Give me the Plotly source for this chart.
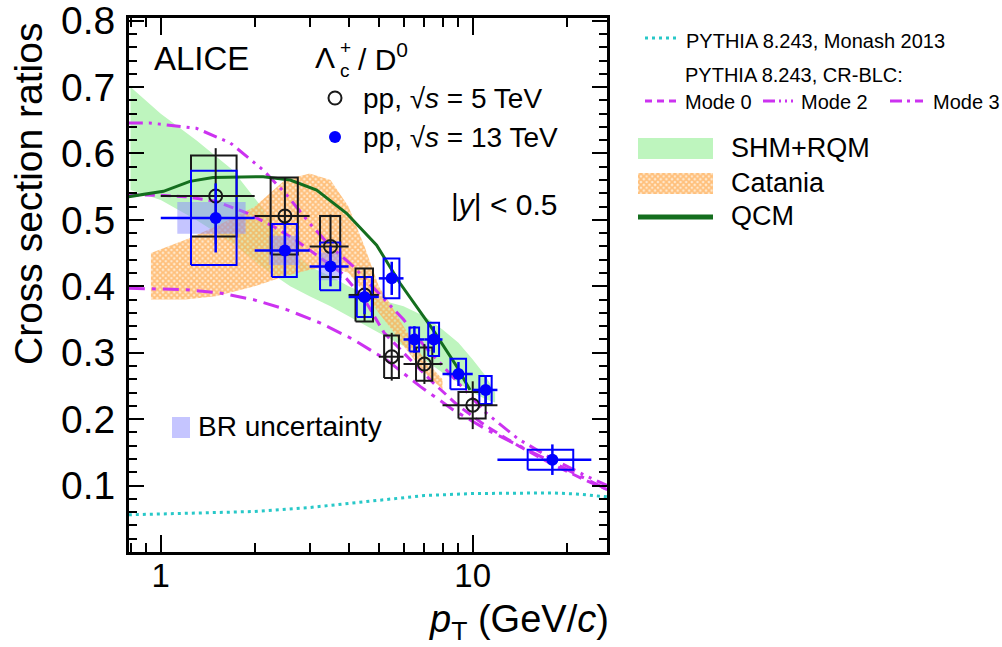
import plotly.graph_objects as go
import numpy as np

# ---------------- data ----------------
pt5 = [1.5, 2.5, 3.5, 4.5, 5.5, 7.0, 10.0]
lo5 = [1, 2, 3, 4, 5, 6, 8]
hi5 = [2, 3, 4, 5, 6, 8, 12]
val5 = [0.536, 0.506, 0.460, 0.387, 0.294, 0.283, 0.221]
stat5 = [0.072, 0.058, 0.048, 0.040, 0.036, 0.030, 0.036]
syst5 = [0.061, 0.058, 0.046, 0.040, 0.032, 0.025, 0.020]
boxw5 = [0.25, 0.25, 0.26, 0.29, 0.30, 0.42, 1.0]

pt13 = [1.5, 2.5, 3.5, 4.5, 5.5, 6.5, 7.5, 9.0, 11.0, 18.0]
lo13 = [1, 2, 3, 4, 5, 6, 7, 8, 10, 12]
hi13 = [2, 3, 4, 5, 6, 7, 8, 10, 12, 24]
val13 = [0.503, 0.454, 0.430, 0.384, 0.412, 0.320, 0.320, 0.268, 0.244, 0.139]
stat13 = [0.052, 0.040, 0.030, 0.026, 0.025, 0.020, 0.020, 0.018, 0.020, 0.023]
syst13 = [0.071, 0.040, 0.036, 0.030, 0.030, 0.018, 0.025, 0.023, 0.021, 0.015]
boxw13 = [0.25, 0.23, 0.26, 0.25, 0.32, 0.23, 0.30, 0.52, 0.50, 3.0]

br_pt = [1.5, 2.5, 3.5]
br_val = [0.503, 0.454, 0.430]
br_unc = [0.024, 0.022, 0.021]
br_w = [0.37, 0.28, 0.30]

monash_pt = [0.79, 1.0, 1.5, 2.0, 3.0, 4.0, 5.0, 7.0, 10.0, 14.0, 18.0, 22.0, 27.0]
monash_y = [0.056, 0.057, 0.059, 0.061, 0.067, 0.073, 0.078, 0.085, 0.088, 0.089, 0.089, 0.087, 0.083]

mode0_pt = [0.79, 1.0, 1.2, 1.5, 1.9, 2.3, 2.7, 3.2, 3.8, 4.5, 5.2, 6.0, 7.5, 9.0, 11.0, 14.0, 18.0, 23.0, 27.0]
mode0_y = [0.538, 0.537, 0.535, 0.528, 0.51, 0.49, 0.47, 0.445, 0.42, 0.38, 0.33, 0.30, 0.254, 0.22, 0.19, 0.16, 0.132, 0.108, 0.094]

mode2_pt = [0.79, 0.92, 1.3, 1.67, 2.13, 2.53, 3.0, 3.5, 4.14, 5.0, 6.0, 7.0, 8.0, 9.0, 11.0, 14.0, 18.0, 23.0, 27.0]
mode2_y = [0.646, 0.646, 0.638, 0.616, 0.575, 0.538, 0.495, 0.46, 0.43, 0.39, 0.35, 0.31, 0.28, 0.255, 0.21, 0.17, 0.14, 0.115, 0.10]

mode3_pt = [0.79, 1.21, 1.55, 1.98, 2.53, 3.24, 4.14, 5.3, 6.8, 8.66, 11.1, 14.2, 18.1, 23.2, 27.0]
mode3_y = [0.397, 0.395, 0.39, 0.38, 0.365, 0.345, 0.32, 0.289, 0.249, 0.214, 0.184, 0.159, 0.134, 0.109, 0.094]

qcm_pt = [0.79, 1.02, 1.24, 1.47, 2.13, 2.6, 3.16, 3.94, 4.92, 5.84, 7.47, 8.9, 9.8]
qcm_y = [0.535, 0.543, 0.558, 0.564, 0.565, 0.56, 0.545, 0.51, 0.462, 0.405, 0.334, 0.279, 0.244]

shm_pt = [0.8, 1.0, 1.3, 1.7, 2.1, 2.6, 3.0, 3.5, 4.0, 5.0, 6.0, 7.0, 8.0, 9.0, 10.0, 11.0, 11.8]
shm_hi = [0.70, 0.66, 0.62, 0.575, 0.52, 0.455, 0.43, 0.415, 0.40, 0.38, 0.37, 0.355, 0.335, 0.315, 0.29, 0.265, 0.24]
shm_lo = [0.545, 0.53, 0.50, 0.465, 0.43, 0.40, 0.385, 0.37, 0.355, 0.33, 0.31, 0.29, 0.27, 0.255, 0.24, 0.23, 0.225]

cat_pt = [0.93, 1.2, 1.5, 2.0, 2.5, 3.0, 3.5, 4.0, 4.5, 5.0, 5.5, 6.0, 7.0, 8.0]
cat_hi = [0.45, 0.47, 0.49, 0.52, 0.56, 0.57, 0.56, 0.52, 0.46, 0.40, 0.37, 0.34, 0.29, 0.26]
cat_lo = [0.38, 0.38, 0.385, 0.40, 0.415, 0.425, 0.43, 0.42, 0.39, 0.36, 0.335, 0.31, 0.27, 0.245]

# ---------------- geometry helpers (layout only) ----------------
W, H = 1002, 647
L, R, T, B = 129, 0, 18, 95
PW, PH = W - L - R, H - T - B
def px(x):
    return (x - L) / PW
def py(y):
    return (H - B - y) / PH

FONT = "Liberation Sans, Arial, Helvetica, sans-serif"
MAG = "rgb(204,50,240)"
CYAN = "rgb(40,200,200)"
DGREEN = "rgb(20,110,30)"
LGREEN = "rgb(190,245,190)"
BLUE = "rgb(0,0,255)"
BLACK = "rgb(25,25,25)"
CAT_FILL = "rgba(255,200,140,0.5)"
CAT_PATTERN = dict(shape="x", fgcolor="rgb(255,150,40)", bgcolor="rgba(255,215,165,0.55)", size=4, solidity=0.7)

def boxes(pt, val, err, hw):
    xs, ys = [], []
    for p, v, e, w in zip(pt, val, err, hw):
        xs += [p - w, p + w, p + w, p - w, p - w, None]
        ys += [v - e, v - e, v + e, v + e, v - e, None]
    return xs, ys

fig = go.Figure()

# bands
fig.add_trace(go.Scatter(x=shm_pt + shm_pt[::-1], y=shm_hi + shm_lo[::-1], fill="toself",
                         fillcolor=LGREEN, line=dict(width=0), mode="lines", showlegend=False))
fig.add_trace(go.Scatter(x=cat_pt + cat_pt[::-1], y=cat_hi + cat_lo[::-1], fill="toself",
                         fillcolor=CAT_FILL, line=dict(width=0), mode="lines",
                         fillpattern=CAT_PATTERN, showlegend=False))
# model lines
fig.add_trace(go.Scatter(x=monash_pt, y=monash_y, mode="lines", line=dict(color=CYAN, width=3, dash="3px,4px"), showlegend=False))
fig.add_trace(go.Scatter(x=mode3_pt, y=mode3_y, mode="lines", line=dict(color=MAG, width=3, dash="16px,7px,4px,7px"), showlegend=False))
fig.add_trace(go.Scatter(x=mode2_pt, y=mode2_y, mode="lines", line=dict(color=MAG, width=3, dash="14px,6px,3px,6px,3px,6px"), showlegend=False))
fig.add_trace(go.Scatter(x=mode0_pt, y=mode0_y, mode="lines", line=dict(color=MAG, width=3, dash="10px,6px"), showlegend=False))
fig.add_trace(go.Scatter(x=qcm_pt, y=qcm_y, mode="lines", line=dict(color=DGREEN, width=3), showlegend=False))

# BR uncertainty boxes
bx, by = boxes(br_pt, br_val, br_unc, br_w)
fig.add_trace(go.Scatter(x=bx, y=by, fill="toself", fillcolor="rgba(140,140,255,0.5)", line=dict(width=0),
                         mode="lines", showlegend=False))
# systematic boxes
sx, sy = boxes(pt5, val5, syst5, boxw5)
fig.add_trace(go.Scatter(x=sx, y=sy, mode="lines", line=dict(color=BLACK, width=2), showlegend=False))
sx, sy = boxes(pt13, val13, syst13, boxw13)
fig.add_trace(go.Scatter(x=sx, y=sy, mode="lines", line=dict(color=BLUE, width=2), showlegend=False))

# data points
fig.add_trace(go.Scatter(x=pt5, y=val5, mode="markers",
                         marker=dict(symbol="circle-open", size=13, color=BLACK, line=dict(width=2, color=BLACK)),
                         error_x=dict(type="data", symmetric=False, array=list(np.array(hi5) - np.array(pt5)),
                                      arrayminus=list(np.array(pt5) - np.array(lo5)), color=BLACK, thickness=2, width=0),
                         error_y=dict(type="data", array=stat5, color=BLACK, thickness=2, width=0),
                         showlegend=False))
fig.add_trace(go.Scatter(x=pt13, y=val13, mode="markers",
                         marker=dict(symbol="circle", size=12, color=BLUE),
                         error_x=dict(type="data", symmetric=False, array=list(np.array(hi13) - np.array(pt13)),
                                      arrayminus=list(np.array(pt13) - np.array(lo13)), color=BLUE, thickness=2.5, width=0),
                         error_y=dict(type="data", array=stat13, color=BLUE, thickness=2.5, width=0),
                         showlegend=False))

# ---------------- legend glyphs on a pixel overlay axis ----------------
fig.add_trace(go.Scatter(x=[335], y=[98], xaxis="x2", yaxis="y2", mode="markers",
                         marker=dict(symbol="circle-open", size=13, color=BLACK, line=dict(width=2, color=BLACK)),
                         showlegend=False, hoverinfo="skip"))
fig.add_trace(go.Scatter(x=[335], y=[137], xaxis="x2", yaxis="y2", mode="markers",
                         marker=dict(symbol="circle", size=12, color=BLUE), showlegend=False, hoverinfo="skip"))
# BR legend square
fig.add_trace(go.Scatter(x=[172, 190, 190, 172, 172], y=[417, 417, 438, 438, 417], xaxis="x2", yaxis="y2",
                         fill="toself", fillcolor="rgba(140,140,255,0.5)", line=dict(width=0), mode="lines",
                         showlegend=False, hoverinfo="skip"))
# SHM legend
fig.add_trace(go.Scatter(x=[638, 713, 713, 638, 638], y=[138, 138, 159, 159, 138], xaxis="x2", yaxis="y2",
                         fill="toself", fillcolor=LGREEN, line=dict(width=0), mode="lines",
                         showlegend=False, hoverinfo="skip"))
# Catania legend
fig.add_trace(go.Scatter(x=[638, 713, 713, 638, 638], y=[173, 173, 194, 194, 173], xaxis="x2", yaxis="y2",
                         fill="toself", fillcolor=CAT_FILL, line=dict(width=0), mode="lines",
                         fillpattern=CAT_PATTERN, showlegend=False, hoverinfo="skip"))
# legend lines
legend_lines = [
    ([645, 677], [38, 38], CYAN, 3, "3px,4px"),
    ([645, 677], [101, 101], MAG, 3, "7px,5px"),
    ([763, 793], [101, 101], MAG, 3, "12px,4px,2px,4px,2px,4px"),
    ([890, 923], [101, 101], MAG, 3, "12px,5px,3px,5px"),
    ([638, 713], [217, 217], DGREEN, 5, "solid"),
]
for xs, ys, c, w, d in legend_lines:
    fig.add_trace(go.Scatter(x=xs, y=ys, xaxis="x2", yaxis="y2", mode="lines",
                             line=dict(color=c, width=w, dash=d), showlegend=False, hoverinfo="skip"))

# ---------------- texts ----------------
ann = []
def txt(x, y, s, size, xanchor="left", yanchor="middle", angle=0, color="black"):
    ann.append(dict(x=px(x), y=py(y), xref="paper", yref="paper", text=s, showarrow=False,
                    xanchor=xanchor, yanchor=yanchor, textangle=angle,
                    font=dict(family=FONT, size=size, color=color)))

txt(152, 59, "ALICE", 33)
txt(313, 58, "Λ", 30)
txt(338, 47, "+", 19)
txt(338, 70, "c", 19)
txt(356, 57, "/ D<sup>0</sup>", 30)
txt(361, 98, "pp, √<i>s</i> = 5 TeV", 28)
txt(361, 137, "pp, √<i>s</i> = 13 TeV", 28)
txt(449, 205, "|<i>y</i>| < 0.5", 30)
txt(196, 426, "BR uncertainty", 28)
txt(684, 41, "PYTHIA 8.243, Monash 2013", 20)
txt(683, 75, "PYTHIA 8.243, CR-BLC:", 20)
txt(683, 102, "Mode 0", 20)
txt(799, 102, "Mode 2", 20)
txt(931, 102, "Mode 3", 20)
txt(729, 148, "SHM+RQM", 27)
txt(729, 183, "Catania", 27)
txt(729, 216, "QCM", 27)
txt(611, 622, "<i>p</i><sub>T</sub> (GeV/<i>c</i>)", 38, xanchor="right")
txt(28, 194, "Cross section ratios", 39, xanchor="center", angle=-90)

fig.update_layout(
    width=W, height=H,
    margin=dict(l=L, r=R, t=T, b=B, pad=0),
    paper_bgcolor="white", plot_bgcolor="rgba(0,0,0,0)",
    showlegend=False,
    annotations=ann,
    xaxis=dict(type="log", range=[np.log10(0.791), np.log10(26.94)], domain=[0, 478 / PW],
               showline=True, linewidth=3, linecolor="black", mirror="ticks",
               ticks="inside", ticklen=17, tickwidth=2, tickcolor="black",
               tickvals=[1, 10], ticktext=["1", "10"],
               tickfont=dict(family=FONT, size=33, color="black"), ticklabelstandoff=-8,
               ticklabeloverflow="allow",
               minor=dict(tickvals=[0.8, 0.9, 2, 3, 4, 5, 6, 7, 8, 9, 20], ticks="inside", ticklen=9,
                          tickwidth=2, tickcolor="black", showgrid=False),
               showgrid=False, zeroline=False),
    yaxis=dict(range=[0, 0.804], showline=True, linewidth=3, linecolor="black", mirror="ticks",
               ticks="inside", ticklen=15, tickwidth=2, tickcolor="black",
               tickvals=[0.1, 0.2, 0.3, 0.4, 0.5, 0.6, 0.7, 0.8],
               ticktext=["0.1", "0.2", "0.3", "0.4", "0.5", "0.6", "0.7", "0.8"],
               tickfont=dict(family=FONT, size=39, color="black"), ticklabelstandoff=3,
               ticklabeloverflow="allow",
               minor=dict(dtick=0.02, ticks="inside", ticklen=8, tickwidth=2, tickcolor="black", showgrid=False),
               showgrid=False, zeroline=False),
    xaxis2=dict(range=[L, W], domain=[0, 1], visible=False, anchor="y2", fixedrange=True),
    yaxis2=dict(range=[H - B, T], domain=[0, 1], visible=False, anchor="x2", fixedrange=True),
)

fig.write_html("out.html")
